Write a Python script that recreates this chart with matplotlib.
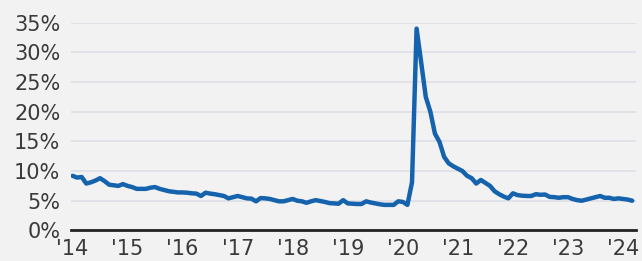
import matplotlib

matplotlib.use("Agg")
import matplotlib.pyplot as plt
import numpy as np
from matplotlib.ticker import FuncFormatter

# monthly rate, Jan 2014 .. Mar 2024 (percent)
rate_2014 = [9.2, 8.9, 9.0, 7.9, 8.1, 8.4, 8.8, 8.3, 7.7, 7.6, 7.5, 7.8]
rate_2015 = [7.5, 7.3, 7.0, 7.0, 7.0, 7.2, 7.3, 7.0, 6.8, 6.6, 6.5, 6.4]
rate_2016 = [6.4, 6.35, 6.25, 6.2, 5.8, 6.35, 6.2, 6.1, 5.95, 5.8, 5.4, 5.6]
rate_2017 = [5.8, 5.6, 5.4, 5.35, 4.9, 5.45, 5.4, 5.3, 5.1, 4.9, 4.9, 5.1]
rate_2018 = [5.3, 5.0, 4.9, 4.65, 4.9, 5.1, 4.95, 4.8, 4.6, 4.55, 4.5, 5.1]
rate_2019 = [4.55, 4.5, 4.45, 4.45, 4.9, 4.7, 4.55, 4.4, 4.3, 4.3, 4.3, 4.9]
rate_2020 = [4.8, 4.3, 8.1, 34.0, 28.3, 22.5, 20.0, 16.3, 14.9, 12.4, 11.3, 10.8]
rate_2021 = [10.4, 10.0, 9.2, 8.8, 7.9, 8.5, 8.0, 7.5, 6.6, 6.1, 5.7, 5.4]
rate_2022 = [6.25, 5.95, 5.85, 5.8, 5.8, 6.1, 6.0, 6.05, 5.65, 5.6, 5.5, 5.6]
rate_2023 = [5.6, 5.3, 5.1, 5.0, 5.2, 5.4, 5.6, 5.8, 5.5, 5.5, 5.3, 5.4]
rate_2024 = [5.3, 5.2, 5.0]

years = list(range(2014, 2025))
tick_labels = ["'14", "'15", "'16", "'17", "'18", "'19", "'20", "'21", "'22", "'23", "'24"]

BG = "#f2f2f2"
GRID = "#dcdce6"
LINE = "#1562ad"
TEXT = "#3a3a3a"


def main():
    values = np.array(rate_2014 + rate_2015 + rate_2016 + rate_2017 + rate_2018
                      + rate_2019 + rate_2020 + rate_2021 + rate_2022 + rate_2023
                      + rate_2024)
    x = 2014 + np.arange(len(values)) / 12.0

    plt.rcParams["font.family"] = ["DejaVu Sans"]
    fig = plt.figure(figsize=(6.42, 2.61), dpi=100, facecolor=BG)
    ax = fig.add_axes([0.1101, 0.1172, 0.8801, 0.7959], facecolor=BG)

    ax.plot(x, values, color=LINE, lw=3.2, solid_joinstyle="round",
            solid_capstyle="round", zorder=3)

    ax.set_xlim(2013.967, 2024.23)
    ax.set_ylim(0, 35)
    ax.set_yticks(np.arange(0, 36, 5))
    ax.yaxis.set_major_formatter(FuncFormatter(lambda v, _: f"{v:.0f}%"))
    ax.set_xticks(years)
    ax.set_xticklabels(tick_labels)

    ax.grid(axis="y", color=GRID, lw=1.1, zorder=0)
    for side in ("top", "right", "left"):
        ax.spines[side].set_visible(False)
    ax.spines["bottom"].set_color("#222222")
    ax.spines["bottom"].set_linewidth(2)
    ax.spines["bottom"].set_zorder(4)

    ax.tick_params(axis="both", length=0, labelsize=15, colors=TEXT)
    ax.tick_params(axis="y", pad=7.5)
    ax.tick_params(axis="x", pad=6)
    ax.set_axisbelow(True)

    fig.savefig("out.png", dpi=100, facecolor=BG)
    plt.close(fig)


if __name__ == "__main__":
    main()
